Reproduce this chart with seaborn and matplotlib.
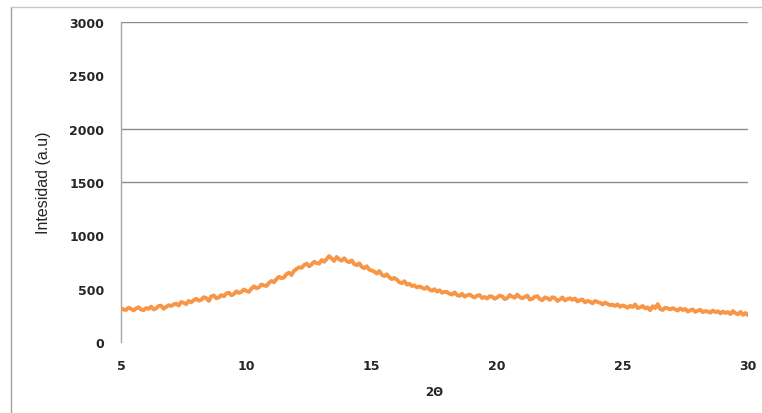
import numpy as np
import pandas as pd
import matplotlib
matplotlib.use("Agg")
import matplotlib.pyplot as plt
from matplotlib.lines import Line2D
import seaborn as sns

# 2-theta from 5 to 30 step 0.1
theta_start = 5.0
theta_step = 0.1
intensity = [
    318, 305, 300, 322, 310, 296, 315, 326, 304, 298,
    318, 310, 332, 305, 315, 338, 340, 312, 328, 345,
    338, 352, 360, 342, 375, 368, 355, 385, 372, 392,
    405, 388, 395, 420, 412, 385, 428, 436, 410, 418,
    440, 428, 455, 462, 438, 450, 475, 460, 470, 492,
    478, 470, 500, 522, 505, 512, 540, 530, 525, 555,
    572, 560, 590, 612, 598, 605, 638, 650, 628, 668,
    685, 700, 695, 722, 735, 710, 728, 752, 740, 735,
    768, 752, 778, 805, 782, 760, 798, 775, 762, 785,
    758, 748, 765, 730, 720, 738, 705, 692, 710, 678,
    670, 660, 642, 665, 630, 618, 635, 605, 590, 600,
    585, 560, 552, 570, 538, 545, 525, 530, 512, 520,
    510, 498, 515, 492, 480, 495, 472, 485, 462, 470,
    468, 452, 445, 465, 440, 432, 452, 425, 438, 445,
    428, 418, 435, 440, 412, 422, 408, 430, 425, 405,
    418, 435, 428, 402, 412, 440, 425, 415, 445, 420,
    410, 422, 435, 398, 405, 425, 430, 402, 392, 418,
    410, 395, 420, 412, 385, 398, 418, 390, 402, 410,
    395, 408, 380, 392, 398, 372, 385, 378, 362, 385,
    375, 368, 352, 370, 358, 345, 350, 338, 352, 330,
    342, 335, 320, 340, 328, 352, 318, 325, 338, 315,
    325, 298, 335, 318, 355, 310, 300, 322, 315, 305,
    318, 305, 295, 315, 300, 310, 285, 298, 305, 282,
    295, 302, 280, 290, 285, 275, 295, 280, 288, 268,
    285, 272, 280, 262, 290, 270, 260, 282, 255, 272,
    252,
]
two_theta = [round(theta_start + i * theta_step, 1) for i in range(len(intensity))]

x_ticks = [5, 10, 15, 20, 25, 30]
y_ticks = [0, 500, 1000, 1500, 2000, 2500, 3000]
grid_levels = [1500, 2000, 3000]

df = pd.DataFrame({"2Θ": two_theta, "Intesidad (a.u)": intensity})

sns.set_style("white")
plt.rcParams["font.family"] = ["DejaVu Sans"]

fig = plt.figure(figsize=(7.62, 4.14), dpi=100)
ax = fig.add_axes([121 / 762, 71 / 414, 627 / 762, 320 / 414])

for g in grid_levels:
    ax.axhline(g, color="#8c8c8c", lw=1.0, zorder=0)

sns.lineplot(data=df, x="2Θ", y="Intesidad (a.u)", ax=ax,
             color="#F79646", lw=2.8, zorder=3)

ax.set_xlim(5, 30)
ax.set_ylim(0, 3000)
ax.set_xticks(x_ticks)
ax.set_yticks(y_ticks)
ax.set_xticklabels([str(t) for t in x_ticks], fontweight="bold", fontsize=9)
ax.set_yticklabels([str(t) for t in y_ticks], fontweight="bold", fontsize=9)
ax.tick_params(axis="both", length=0)
ax.tick_params(axis="x", pad=12)
ax.tick_params(axis="y", pad=12)

for s in ["top", "right", "bottom"]:
    ax.spines[s].set_visible(False)
ax.spines["left"].set_color("#a6a6a6")
ax.spines["left"].set_linewidth(1.0)

ax.set_ylabel("Intesidad (a.u)", fontsize=11.5, family=["Liberation Sans", "DejaVu Sans"])
ax.set_xlabel("2Θ", fontsize=8.5, fontweight="bold")
ax.yaxis.set_label_coords(-0.112, 0.5)
ax.xaxis.set_label_coords(0.5, -0.135)

# outer chart frame (left and top)
fig.add_artist(Line2D([11 / 762, 11 / 762], [0, 1 - 8 / 414],
                      transform=fig.transFigure, color="#a0a0a0", lw=1.0))
fig.add_artist(Line2D([11 / 762, 1], [1 - 8 / 414, 1 - 8 / 414],
                      transform=fig.transFigure, color="#c8c8c8", lw=1.0))

fig.savefig("out.png", dpi=100)
